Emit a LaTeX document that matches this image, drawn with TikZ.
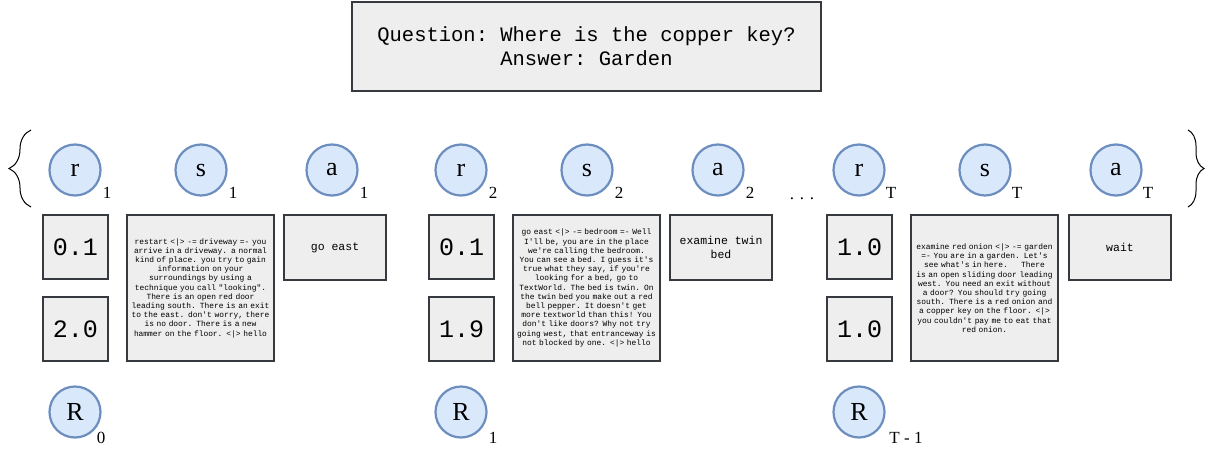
\documentclass[tikz,border=0pt]{standalone}
\usepackage{fontspec}
\setmainfont{Liberation Serif}
\setmonofont{Liberation Mono}
\usetikzlibrary{decorations.pathreplacing}
\definecolor{boxfill}{HTML}{EEEEEE}
\definecolor{boxline}{HTML}{36393D}
\definecolor{circfill}{HTML}{DAE8FC}
\definecolor{circline}{HTML}{6C8EBF}
\begin{document}
\begin{tikzpicture}[x=1pt,y=-1pt,
  var/.style={circle, draw=circline, fill=circfill, line width=2.2pt, minimum size=51pt, inner sep=0pt, font=\fontsize{26}{28}\selectfont},
  sub/.style={font=\fontsize{17}{19}\selectfont, inner sep=0pt},
  gbox/.style={draw=boxline, fill=boxfill, line width=1.2pt, inner sep=0pt, align=center},
  numbox/.style={gbox, minimum width=65pt, minimum height=64pt, font=\ttfamily\fontsize{25}{28}\selectfont},
  obsbox/.style={gbox, minimum width=147pt, minimum height=146pt, text width=147pt, font=\ttfamily\fontsize{7.9}{9.2}\selectfont},
  actbox/.style={gbox, minimum width=102pt, minimum height=65pt, font=\ttfamily\fontsize{11.5}{13.5}\selectfont},
  qbox/.style={gbox, minimum width=469pt, minimum height=89pt, font=\ttfamily\fontsize{20.5}{24}\selectfont},
  bracepath/.style={line width=1pt, decorate}
]
\useasboundingbox (0,0) rectangle (1214,452);

% question
\node[qbox] (q) at (586.5,46.5) {Question: Where is the copper key?\\Answer: Garden};

% braces
\coordinate (lb1) at (31,207);
\coordinate (lb2) at (31,130);
\coordinate (rb1) at (1188,130);
\coordinate (rb2) at (1188,207);
\draw[bracepath, decoration={brace, amplitude=22pt}] (lb1) -- (lb2);
\draw[bracepath, decoration={brace, amplitude=16pt}] (rb1) -- (rb2);

% ---------- group 1 (r = 75)
\node[var] (r1) at (75,170) {r};
\node[sub] (r1s) at (107,193) {1};
\node[var] (s1) at (201,170) {s};
\node[sub] (s1s) at (233,193) {1};
\node[var] (a1) at (332,170) {a};
\node[sub] (a1s) at (364,193) {1};
\node[numbox] (r1v) at (75.5,247) {0.1};
\node[numbox] (R0v) at (75.5,329) {2.0};
\node[obsbox] (s1v) at (200.5,288) {restart <|> -= driveway =- you\\arrive in a driveway. a normal\\kind of place. you try to gain\\information on your\\surroundings by using a\\technique you call "looking".\\There is an open red door\\leading south. There is an exit\\to the east. don't worry, there\\is no door. There is a new\\hammer on the floor. <|> hello};
\node[actbox] (a1v) at (335,247.5) {go east};
\node[var] (R0) at (75,412) {R};
\node[sub] (R0s) at (101,438) {0};

% ---------- group 2 (r = 461)
\node[var] (r2) at (461,170) {r};
\node[sub] (r2s) at (493,193) {2};
\node[var] (s2) at (587,170) {s};
\node[sub] (s2s) at (619,193) {2};
\node[var] (a2) at (718,170) {a};
\node[sub] (a2s) at (750,193) {2};
\node[numbox] (r2v) at (461.5,247) {0.1};
\node[numbox] (R1v) at (461.5,329) {1.9};
\node[obsbox] (s2v) at (586.5,288) {go east <|> -= bedroom =- Well\\I'll be, you are in the place\\we're calling the bedroom.\\You can see a bed. I guess it's\\true what they say, if you're\\looking for a bed, go to\\TextWorld. The bed is twin. On\\the twin bed you make out a red\\bell pepper. It doesn't get\\more textworld than this! You\\don't like doors? Why not try\\going west, that entranceway is\\not blocked by one. <|> hello};
\node[actbox] (a2v) at (721,247.5) {examine twin\\bed};
\node[var] (R1) at (461,412) {R};
\node[sub] (R1s) at (493,438) {1};

% dots
\node[sub] (dots) at (802,199) {.\,\,.\,\,.};

% ---------- group T (r = 859)
\node[var] (rT) at (859,170) {r};
\node[sub] (rTs) at (891,193) {T};
\node[var] (sT) at (985,170) {s};
\node[sub] (sTs) at (1017,193) {T};
\node[var] (aT) at (1116,170) {a};
\node[sub] (aTs) at (1148,193) {T};
\node[numbox] (rTv) at (859.5,247) {1.0};
\node[numbox] (RTv) at (859.5,329) {1.0};
\node[obsbox] (sTv) at (984.5,288) {examine red onion <|> -= garden\\=- You are in a garden. Let's\\see what's in here.\ \ \ \ \ There\\is an open sliding door leading\\west. You need an exit without\\a door? You should try going\\south. There is a red onion and\\a copper key on the floor. <|>\\you couldn't pay me to eat that\\red onion.};
\node[actbox] (aTv) at (1120,247.5) {wait};
\node[var] (RT) at (859,412) {R};
\node[sub] (RTs) at (906,438) {T - 1};
\end{tikzpicture}
\end{document}
